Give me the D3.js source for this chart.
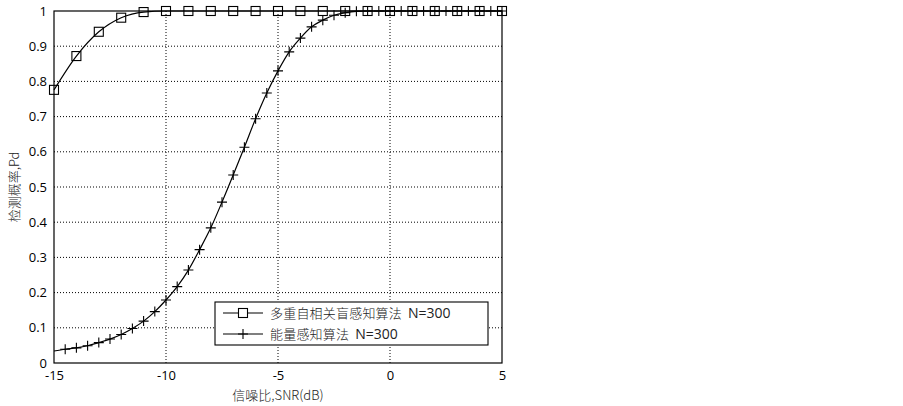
<!DOCTYPE html>
<html><head><meta charset="utf-8">
<script src="https://cdn.jsdelivr.net/npm/d3@7"></script>
<style>
body{margin:0;background:#fff;}
text{font-family:"Open Sans","DejaVu Sans",sans-serif;}
</style></head>
<body><svg id="c" width="903" height="406"></svg>
<script>
// Data
const squareX = [-15,-14,-13,-12,-11,-10,-9,-8,-7,-6,-5,-4,-3,-2,-1,0,1,2,3,4,5];
const squareY = [0.776,0.872,0.941,0.981,0.997,1,1,1,1,1,1,1,1,1,1,1,1,1,1,1,1];
const plusX = [-15,-14.5,-14,-13.5,-13,-12.5,-12,-11.5,-11,-10.5,-10,-9.5,-9,-8.5,-8,-7.5,-7,-6.5,-6,-5.5,-5,-4.5,-4,-3.5,-3,-2.5,-2,-1.5,-1,-0.5,0,0.5,1,1.5,2,2.5,3,3.5,4,4.5,5];
const plusY = [0.034,0.039,0.043,0.049,0.058,0.068,0.081,0.098,0.119,0.146,0.179,0.217,0.264,0.322,0.384,0.457,0.534,0.613,0.694,0.767,0.830,0.884,0.923,0.955,0.974,0.988,0.995,0.999,1,1,1,1,1,1,1,1,1,1,1,1,1];
const xTicks = [-15,-10,-5,0,5];
const yTicks = [0,0.1,0.2,0.3,0.4,0.5,0.6,0.7,0.8,0.9,1];
const seriesNames = ["多重自相关盲感知算法","能量感知算法"];
const seriesSuffix = ["N=300","N=300"];
const xLabel = "信噪比,SNR(dB)";
const yLabel = "检测概率,Pd";

const svg = d3.select("#c");
const L=54, R=502, T=11, B=363;
const x = d3.scaleLinear().domain([-15,5]).range([L,R]);
const y = d3.scaleLinear().domain([0,1]).range([B,T]);

// grid
const g = svg.append("g");
g.selectAll(".gx").data(xTicks.slice(1,-1)).enter().append("line")
  .attr("x1",d=>x(d)).attr("x2",d=>x(d)).attr("y1",T).attr("y2",B)
  .attr("stroke","#000").attr("stroke-width",1).attr("stroke-dasharray","1,2");
g.selectAll(".gy").data(yTicks.slice(1,-1)).enter().append("line")
  .attr("x1",L).attr("x2",R).attr("y1",d=>y(d)).attr("y2",d=>y(d))
  .attr("stroke","#000").attr("stroke-width",1).attr("stroke-dasharray","1,2");

// axes
const xAxis = d3.axisBottom(x).tickValues(xTicks).tickSize(0).tickPadding(8).tickFormat(d=>d);
const yAxis = d3.axisLeft(y).tickValues(yTicks).tickSize(0).tickPadding(7).tickFormat(d=>d);
const gx = svg.append("g").attr("transform",`translate(0,${B})`).call(xAxis);
const gy = svg.append("g").attr("transform",`translate(${L},0)`).call(yAxis);
[gx,gy].forEach(a=>{a.select(".domain").remove(); a.selectAll("text").attr("font-size",13).attr("fill","#000");});
svg.append("rect").attr("x",L).attr("y",T).attr("width",R-L).attr("height",B-T)
  .attr("fill","none").attr("stroke","#000").attr("stroke-width",1.2);

// lines
const sq = squareX.map((d,i)=>[d,squareY[i]]);
const pl = plusX.map((d,i)=>[d,plusY[i]]);
const line = d3.line().x(d=>x(d[0])).y(d=>y(d[1])).curve(d3.curveMonotoneX);
svg.append("path").attr("d",line(pl)).attr("fill","none").attr("stroke","#000").attr("stroke-width",1.2);
svg.append("path").attr("d",line(sq)).attr("fill","none").attr("stroke","#000").attr("stroke-width",1.2);

// markers
const P=5;
svg.append("g").selectAll("path").data(pl.slice(1)).enter().append("path")
  .attr("d",d=>`M${x(d[0])-P},${y(d[1])}H${x(d[0])+P}M${x(d[0])},${y(d[1])-P}V${y(d[1])+P}`)
  .attr("stroke","#000").attr("stroke-width",1.1);
const S=4.5;
svg.append("g").selectAll("rect").data(sq).enter().append("rect")
  .attr("x",d=>x(d[0])-S).attr("y",d=>y(d[1])-S).attr("width",2*S).attr("height",2*S)
  .attr("fill","none").attr("stroke","#000").attr("stroke-width",1.1);

// legend
const lg = svg.append("g");
lg.append("rect").attr("x",215).attr("y",302).attr("width",273).attr("height",43)
  .attr("fill","#fff").attr("stroke","#000").attr("stroke-width",1.1);
const rows=[313,334];
rows.forEach((ry,i)=>{
  lg.append("line").attr("x1",223).attr("x2",263).attr("y1",ry).attr("y2",ry).attr("stroke","#000").attr("stroke-width",1.1);
  if(i===0) lg.append("rect").attr("x",243-S).attr("y",ry-S).attr("width",2*S).attr("height",2*S).attr("fill","#fff").attr("stroke","#000").attr("stroke-width",1.1);
  else lg.append("path").attr("d",`M${243-P},${ry}H${243+P}M243,${ry-P}V${ry+P}`).attr("stroke","#000").attr("stroke-width",1.1);
  const t = lg.append("text").attr("x",270).attr("y",ry+5).attr("font-size",13).attr("fill","#222");
  t.append("tspan").style("font-family","'Noto Sans CJK SC',sans-serif").style("font-weight",300)
    .attr("letter-spacing",0.2).text(seriesNames[i]);
  t.append("tspan").attr("dx",6).attr("font-size",14).text(seriesSuffix[i]);
});

// axis labels
svg.append("text").attr("x",278).attr("y",400).attr("text-anchor","middle").attr("font-size",13).attr("fill","#222")
  .style("font-family","'Noto Sans CJK SC',sans-serif").style("font-weight",300).text(xLabel);
svg.append("text").attr("transform","translate(19,187) rotate(-90)").attr("text-anchor","middle").attr("font-size",13).attr("fill","#222")
  .style("font-family","'Noto Sans CJK SC',sans-serif").style("font-weight",300).text(yLabel);
</script></body></html>
